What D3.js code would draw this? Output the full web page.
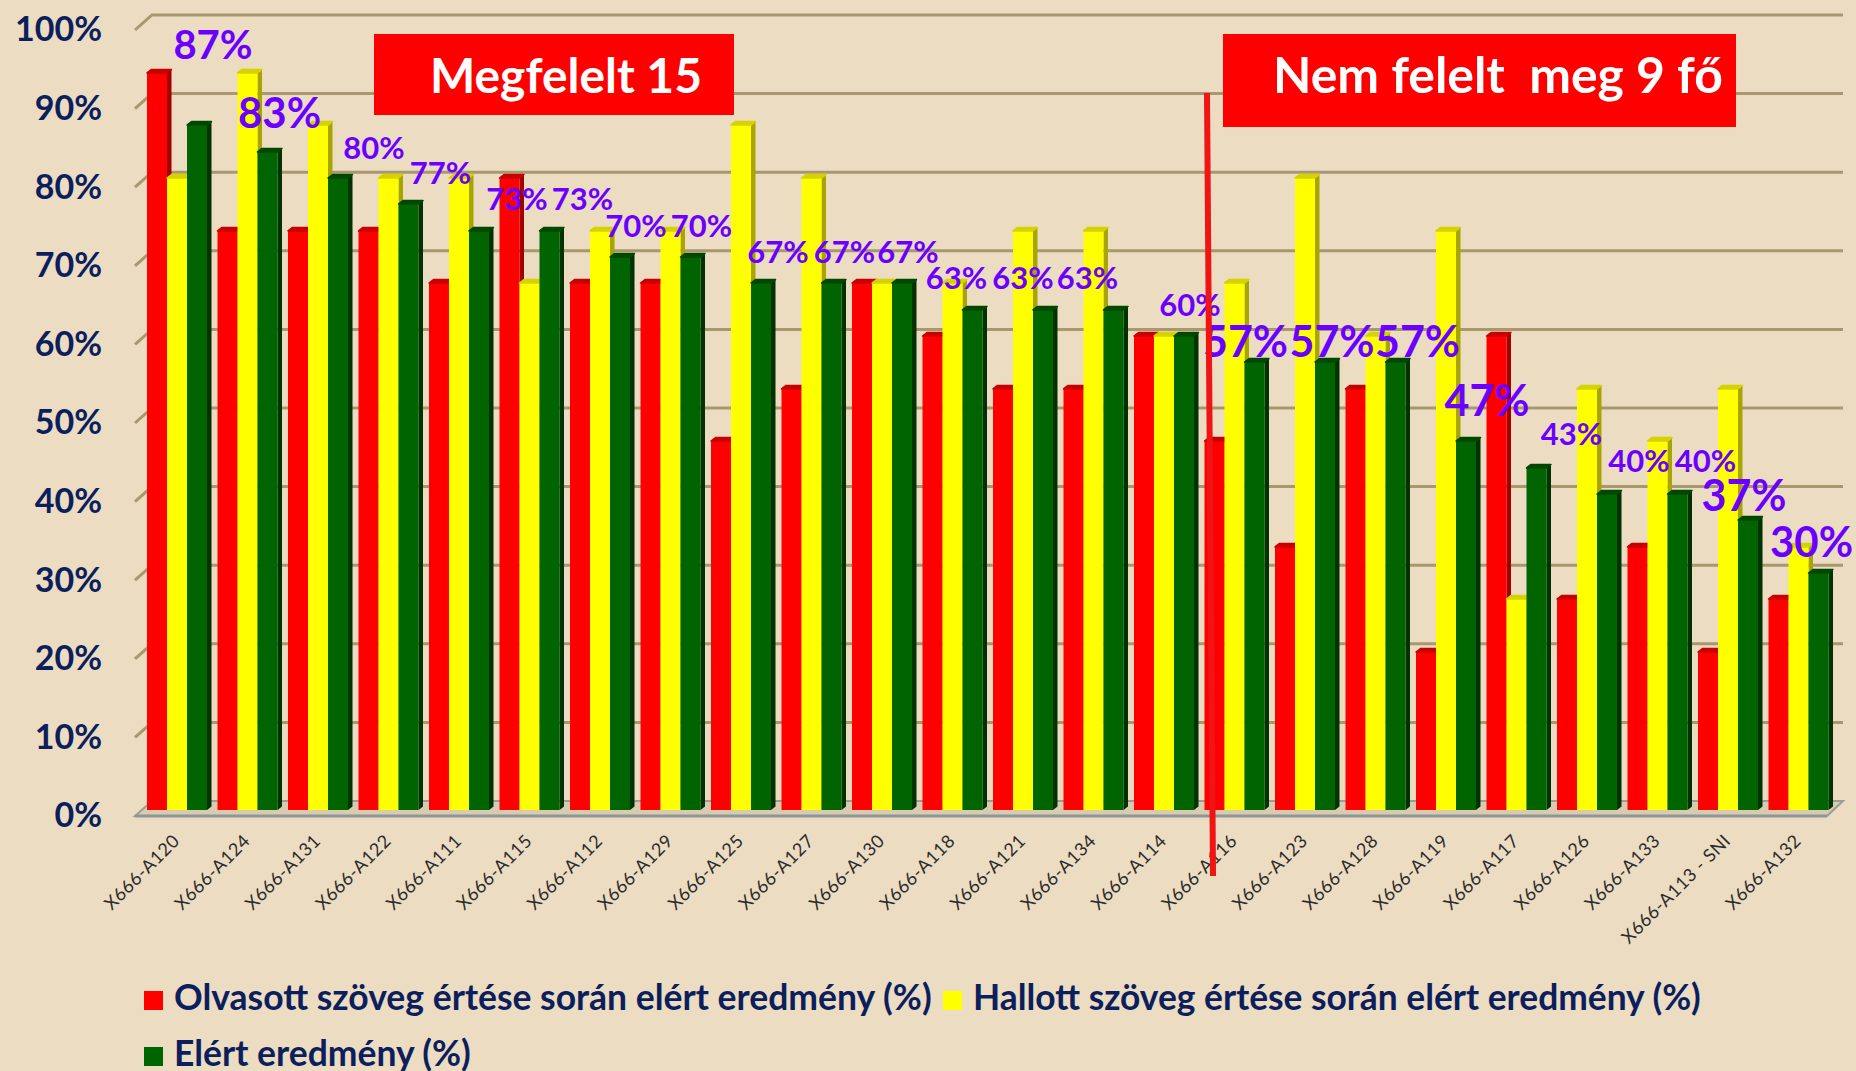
<!DOCTYPE html>
<html>
<head>
<meta charset="utf-8">
<script src="https://cdn.jsdelivr.net/npm/d3@7.9.0/dist/d3.min.js"></script>
<style>
  html, body { margin: 0; padding: 0; background: #ebdcc2; }
  svg { display: block; }
  text { font-family: Lato, "Open Sans", sans-serif; }
</style>
</head>
<body>
<svg id="chart" width="1856" height="1071"></svg>
<script>
const students = [
    'X666-A120', 'X666-A124', 'X666-A131', 'X666-A122', 'X666-A111', 'X666-A115',
    'X666-A112', 'X666-A129', 'X666-A125', 'X666-A127', 'X666-A130', 'X666-A118',
    'X666-A121', 'X666-A134', 'X666-A114', 'X666-A116', 'X666-A123', 'X666-A128',
    'X666-A119', 'X666-A117', 'X666-A126', 'X666-A133', 'X666-A113 - SNI', 'X666-A132'
];
// Olvasott szöveg értése (%)
const olvasott = [93.3, 73.3, 73.3, 73.3, 66.7, 80, 66.7, 66.7, 46.7, 53.3, 66.7, 60,
    53.3, 53.3, 60, 46.7, 33.3, 53.3, 20, 60, 26.7, 33.3, 20, 26.7];
// Hallott szöveg értése (%)
const hallott = [80, 93.3, 86.7, 80, 80, 66.7, 73.3, 73.3, 86.7, 80, 66.7, 66.7,
    73.3, 73.3, 60, 66.7, 80, 60, 73.3, 26.7, 53.3, 46.7, 53.3, 33.3];
// Elért eredmény (%)
const elert = [86.7, 83.3, 80, 76.7, 73.3, 73.3, 70, 70, 66.7, 66.7, 66.7, 63.3,
    63.3, 63.3, 60, 56.7, 56.7, 56.7, 46.7, 43.3, 40, 40, 36.7, 30];

const yTicks = [0, 10, 20, 30, 40, 50, 60, 70, 80, 90, 100];
const seriesNames = [
    'Olvasott szöveg értése során elért eredmény (%)',
    'Hallott szöveg értése során elért eredmény (%)',
    'Elért eredmény (%)'
];
const passedCount = 15;
const failedCount = 9;

// hand placed data labels in the original: nudge [dx, dy] and font size
const labelNudge = [[16, -49], [12, -8], [36, 1], [32, 0], [38, -1], [33, -1], [16, 0], [11, 0],
    [17, 0], [13, 0], [6, 0], [-16, -1], [-20, -1], [-26, -1], [6, 0], [-9, 10], [7, 10],
    [22, 10], [21, -10], [35, -3], [32, -2], [28, -2], [-4, 6], [-7, 0]];
const labelSize = [40, 42, 31, 31, 31, 31, 31, 31, 31, 31, 31, 31, 31, 31, 31, 43, 43, 43,
    43, 31, 31, 31, 43, 42];

const colors = {
    olv: { front: '#ff0000', side: '#a30000', top: '#c80000' },
    hal: { front: '#ffff00', side: '#a9a500', top: '#d6d200' },
    elert: { front: '#006400', side: '#003300', top: '#004800' },
};
const navy = '#0c1f5c';
const purple = '#6a00ff';

const svg = d3.select('#chart');
svg.append('rect').attr('width', 1856).attr('height', 1071).attr('fill', '#ebdcc2');

const x = d3.scaleBand().domain(students).range([147, 1832]).paddingInner(0.0993);
const xs = d3.scaleBand().domain(['olv', 'hal', 'elert']).range([0, 60]);
const yBar = d3.scaleLinear().domain([0, 100]).range([810, 20]);
const yBack = d3.scaleLinear().domain([0, 100]).range([801, 15]);
const yFront = d3.scaleLinear().domain([0, 100]).range([816, 30]);
const wallFront = 135, wallBack = 152, wallRight = 1843;

// gridlines on the back wall, with the short diagonal of the side wall
const grid = svg.append('g').attr('fill', 'none').attr('stroke', '#a8976f').attr('stroke-width', 3);
yTicks.filter(d => d > 0).forEach(v => {
    grid.append('path')
        .attr('d', `M${wallFront},${yFront(v)}L${wallBack},${yBack(v)}H${wallRight}`);
});

// floor
svg.append('path')
    .attr('d', `M${wallFront},${yFront(0)}L${wallBack},${yBack(0)}H${wallRight}L${wallRight - 16},${yFront(0)}Z`)
    .attr('fill', '#d9cbb0').attr('stroke', '#9a9c98').attr('stroke-width', 2);
svg.append('line')
    .attr('x1', wallFront).attr('x2', wallRight - 16)
    .attr('y1', yFront(0)).attr('y2', yFront(0))
    .attr('stroke', '#8e9696').attr('stroke-width', 3);

// bars
const depthX = 4.5, depthY = -3.5;
const rows = students.map((s, i) => ({
    name: s,
    values: [
        { key: 'olv', v: olvasott[i] },
        { key: 'hal', v: hallott[i] },
        { key: 'elert', v: elert[i] },
    ],
}));

const groups = svg.append('g').selectAll('g')
    .data(rows)
    .join('g')
    .attr('transform', d => `translate(${x(d.name)},0)`);

groups.each(function(d) {
    const g = d3.select(this);
    d.values.forEach(b => {
        const x0 = xs(b.key);
        const w = xs.bandwidth();
        const top = yBar(b.v);
        const bottom = yBar(0);
        const c = colors[b.key];
        g.append('path')
            .attr('d', `M${x0 + w},${top}L${x0 + w + depthX},${top + depthY}V${bottom + depthY}L${x0 + w},${bottom}Z`)
            .attr('fill', c.side);
        g.append('rect')
            .attr('x', x0).attr('y', top)
            .attr('width', w).attr('height', bottom - top)
            .attr('fill', c.front);
        g.append('path')
            .attr('d', `M${x0},${top}L${x0 + depthX},${top + depthY}H${x0 + w + depthX}L${x0 + w},${top}Z`)
            .attr('fill', c.top)
            .attr('stroke', c.top).attr('stroke-width', 1.5).attr('stroke-linejoin', 'round');
    });
});

// y axis
const yAxis = svg.append('g')
    .attr('transform', `translate(${wallFront},0)`)
    .call(d3.axisLeft(yFront).tickValues(yTicks).tickFormat(d => d + '%').tickSize(0).tickPadding(33));
yAxis.select('.domain').remove();
yAxis.selectAll('text')
    .attr('fill', navy)
    .style('font-size', '34px')
    .style('font-weight', 'bold');

// x axis labels
const xAxis = svg.append('g')
    .attr('transform', `translate(0,${yFront(0)})`)
    .call(d3.axisBottom(x).tickSize(0));
xAxis.select('.domain').remove();
xAxis.selectAll('text')
    .attr('x', 0).attr('y', 0).attr('dy', 0)
    .attr('text-anchor', 'end')
    .attr('transform', 'translate(2,26) rotate(-45)')
    .attr('fill', '#2b2b2b')
    .style('font-size', '18px')
    .style('letter-spacing', '0.5px');

// data labels above the green bars
svg.append('g').selectAll('text')
    .data(rows)
    .join('text')
    .attr('x', (d, i) => x(d.name) + xs('elert') + xs.bandwidth() / 2 + labelNudge[i][0])
    .attr('y', (d, i) => yBar(elert[i]) - 32 + labelNudge[i][1])
    .attr('text-anchor', 'middle')
    .attr('dominant-baseline', 'central')
    .attr('fill', purple)
    .style('font-weight', 'bold')
    .style('font-size', (d, i) => labelSize[i] + 'px')
    .text((d, i) => Math.round(elert[i]) + '%');

// separator between passed and failed
const sepX = x(students[passedCount]);
svg.append('line')
    .attr('x1', sepX + 2.5).attr('y1', 93)
    .attr('x2', sepX + 8.5).attr('y2', 876)
    .attr('stroke', '#f01414').attr('stroke-width', 6);

function fitText(sel, width) {
    const base = parseFloat(sel.style('font-size'));
    const len = sel.node().getComputedTextLength();
    sel.style('font-size', (base * width / len) + 'px');
}

// red annotation boxes
const boxes = [
    { x: 374, y: 34, w: 360, h: 81, tx: 430, tw: 272, text: `Megfelelt ${passedCount}` },
    { x: 1223, y: 34, w: 513, h: 93, tx: 1273, tw: 450, text: `Nem felelt\u00a0\u00a0meg ${failedCount} fő` },
];
boxes.forEach(b => {
    svg.append('rect').attr('x', b.x).attr('y', b.y).attr('width', b.w).attr('height', b.h).attr('fill', '#ff0000');
    const t = svg.append('text')
        .attr('x', b.tx).attr('y', 93)
        .attr('fill', '#ffffff')
        .style('font-weight', 'bold')
        .style('font-size', '48px')
        .text(b.text);
    fitText(t, b.tw);
});

// legend
const legendItems = [
    { key: 'olv', x: 144, y: 991, tw: 758 },
    { key: 'hal', x: 943, y: 991, tw: 728 },
    { key: 'elert', x: 144, y: 1047, tw: 297 },
];
legendItems.forEach((d, i) => {
    svg.append('rect').attr('x', d.x).attr('y', d.y).attr('width', 19).attr('height', 19)
        .attr('fill', colors[d.key].front);
    const t = svg.append('text')
        .attr('x', d.x + 30).attr('y', d.y + 19)
        .attr('fill', navy)
        .style('font-weight', 'bold')
        .style('font-size', '30px')
        .text(seriesNames[i]);
    fitText(t, d.tw);
});
</script>
</body>
</html>
